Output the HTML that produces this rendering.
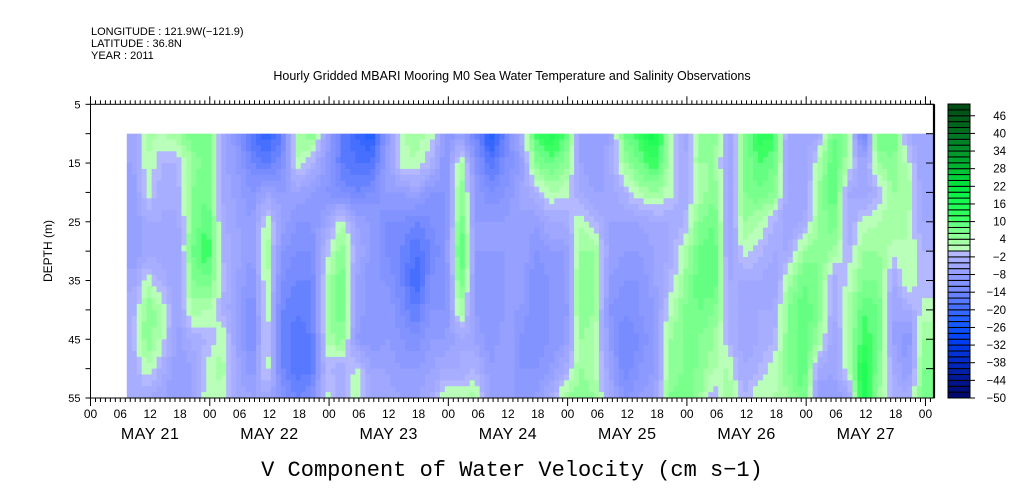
<!DOCTYPE html>
<html><head><meta charset="utf-8"><style>
body{margin:0;background:#fff;}
svg{display:block;font-family:"Liberation Sans",sans-serif;}
</style></head><body>
<svg id="chart" width="1009" height="504" viewBox="0 0 1009 504" xmlns="http://www.w3.org/2000/svg">
<rect x="0" y="0" width="1009" height="504" fill="#fff"/>
<g font-size="11" fill="#000">
<text x="91" y="35">LONGITUDE : 121.9W(−121.9)</text>
<text x="91" y="47">LATITUDE : 36.8N</text>
<text x="91" y="59">YEAR : 2011</text>
</g>
<text x="512" y="80" font-size="12.5" text-anchor="middle">Hourly Gridded MBARI Mooring M0 Sea Water Temperature and Salinity Observations</text>
<g id="cells"></g>
<g id="axes"></g>
<g id="cbar"></g>
<text x="0" y="0" transform="translate(52,251) rotate(-90)" font-size="12" text-anchor="middle">DEPTH (m)</text>
<text x="512" y="476" font-size="22" text-anchor="middle" font-family="'Liberation Mono','DejaVu Sans Mono',monospace">V Component of Water Velocity (cm s−1)</text>
</svg>
<script>
// depths (m) of the data rows
const depths = [10,15,20,25,30,35,40,45,50,55];
// column start hours (from 00 May 21), 3-hour bins
const colStartHour = 7;
const colStepHours = 3;
// velocity values (cm/s) per column, top->bottom at the depths above
const velocity = [
[-6,-6,-8,-8,-8,-5,-3,-2,-4,-4],
[3,2,1,-4,-5,1,6,6,2,-4],
[2,-2,-4,-4,-5,-3,2,1,-3,-6],
[4,-2,-3,-5,-6,-6,-6,-7,-8,-8],
[8,4,6,6,8,6,3,-3,-6,-6],
[8,8,8,10,12,8,2,-2,1,2],
[-4,-5,-4,-3,-2,-1,-2,2,3,1],
[-10,-8,-7,-6,-5,-6,-7,-6,-5,-4],
[-18,-14,-10,-8,-8,-10,-12,-12,-10,-6],
[-22,-16,-6,2,4,3,2,1,2,-4],
[-16,-12,-8,-6,-10,-12,-14,-14,-14,-10],
[3,2,-6,-10,-12,-14,-16,-18,-18,-14],
[6,-2,-8,-10,-12,-14,-14,-16,-16,-12],
[-6,-8,-10,-6,-1,2,3,2,-1,1],
[-16,-16,-12,2,6,8,8,6,-4,-4],
[-20,-18,-14,-6,-4,-6,-6,-8,1,2],
[-24,-18,-12,-8,-8,-10,-10,-10,-6,-4],
[-10,-8,-8,-12,-12,-10,-8,-8,-6,-5],
[2,1,-8,-12,-14,-14,-12,-10,-8,-6],
[3,2,-6,-14,-18,-20,-16,-12,-8,-6],
[2,-2,-10,-12,-14,-12,-10,-8,-6,-4],
[-10,-10,-10,-10,-10,-10,-10,-8,-4,2],
[-8,4,6,8,12,8,4,-4,-4,2],
[-14,-10,-8,-8,-8,-8,-8,-6,-2,3],
[-24,-18,-12,-8,-8,-10,-10,-10,-8,-6],
[-14,-12,-10,-8,-8,-8,-8,-6,-6,-6],
[-4,-8,-6,-6,-6,-6,-8,-10,-10,-10],
[10,6,-2,-8,-10,-12,-12,-12,-10,-8],
[16,8,2,-4,-8,-10,-10,-10,-8,-4],
[10,6,1,-4,-8,-8,-10,-8,-4,4],
[-6,-6,-4,2,4,6,6,4,4,6],
[-8,-8,-6,-2,4,4,4,2,2,4],
[-6,-4,-6,-6,-6,-8,-10,-8,-6,-4],
[8,4,-2,-6,-8,-10,-12,-14,-14,-10],
[12,8,2,-6,-8,-10,-10,-12,-10,-8],
[18,12,4,-4,-6,-6,-8,-8,-8,-6],
[2,2,1,-4,-4,-2,1,4,4,6],
[-6,-4,-4,-2,2,4,6,6,6,8],
[4,4,2,6,8,10,8,6,6,4],
[6,4,6,8,10,10,6,4,2,-2],
[-6,-6,-6,-6,-6,-4,-2,-2,2,4],
[6,6,6,4,1,-4,-6,-6,-4,-2],
[14,10,8,2,-1,-4,-4,-4,-2,2],
[12,8,6,-2,-4,-6,-4,-2,1,2],
[-6,-6,-6,-6,-4,3,6,6,6,4],
[-6,-6,-6,-4,4,8,10,10,10,8],
[-4,2,4,4,6,6,6,4,-4,-8],
[8,10,10,8,4,-4,-4,-6,-6,-8],
[4,2,-4,-4,-2,1,2,2,2,-6],
[-16,-6,-6,1,4,6,10,12,16,16],
[8,4,-2,2,4,6,8,8,6,4],
[8,6,4,4,1,-4,-6,-6,-4,-2],
[-4,1,4,2,2,2,-4,-10,-8,-4],
[-6,-6,-6,-4,-2,-2,1,4,6,8]
];
const colorbarLabels = [-50,-44,-38,-32,-26,-20,-14,-8,-2,4,10,16,22,28,34,40,46];
const hourTickLabels = ["00","06","12","18"];
const dayLabels = ["MAY 21","MAY 22","MAY 23","MAY 24","MAY 25","MAY 26","MAY 27"];
const depthLabels = [5,15,25,35,45,55];

const NS="http://www.w3.org/2000/svg";
const X0=90.5, PXH=4.97, Y0=104.3, PXM=5.874, XR=934, YB=398;
const xs=h=>X0+h*PXH, ys=d=>Y0+(d-5)*PXM;
function mk(tag,attrs,parent){const e=document.createElementNS(NS,tag);for(const k in attrs)e.setAttribute(k,attrs[k]);parent.appendChild(e);return e;}

const anchors=[[-50,[0,10,110]],[-44,[0,25,150]],[-38,[0,45,200]],[-32,[0,60,240]],[-26,[20,90,255]],[-20,[70,110,255]],[-14,[120,140,255]],[-8,[150,160,255]],[-4,[168,174,255]],[-2,[180,184,255]],
[0,[185,255,185]],[2,[165,255,165]],[4,[140,255,150]],[6,[120,255,140]],[8,[100,255,130]],[10,[60,255,100]],[16,[20,250,80]],[22,[0,225,60]],[28,[0,180,50]],[34,[0,140,40]],[40,[0,110,30]],[50,[0,70,20]]];
function color(v){
  const b=Math.max(-50,Math.min(48,Math.floor(v/2)*2));
  let i=0;while(i<anchors.length-2&&anchors[i+1][0]<=b)i++;
  const [a0,c0]=anchors[i],[a1,c1]=anchors[i+1];
  const t=Math.max(0,Math.min(1,(b-a0)/(a1-a0)));
  return "rgb("+c0.map((c,k)=>Math.round(c+(c1[k]-c)*t)).join(",")+")";
}
function sample(h,d){
  const nc=velocity.length;
  let cf=(h-colStartHour)/colStepHours-0.5;cf=Math.max(0,Math.min(nc-1,cf));
  const c0=Math.floor(cf),c1=Math.min(nc-1,c0+1),tc=cf-c0;
  let rf=(d-depths[0])/(depths[1]-depths[0]);rf=Math.max(0,Math.min(depths.length-1,rf));
  const r0=Math.floor(rf),r1=Math.min(depths.length-1,r0+1),tr=rf-r0;
  const a=velocity[c0][r0]*(1-tr)+velocity[c0][r1]*tr;
  const b=velocity[c1][r0]*(1-tr)+velocity[c1][r1]*tr;
  return a*(1-tc)+b*tc;
}
const cells=document.getElementById('cells');
const hStart=colStartHour+0.3, hEnd=(XR-X0)/PXH;
const dStart=depths[0], dEnd=depths[depths.length-1];
for(let h=hStart;h<hEnd;h+=1){
  const h2=Math.min(h+1,hEnd);
  for(let d=dStart;d<dEnd;d+=1){
    const r=mk('rect',{x:xs(h).toFixed(2),y:ys(d).toFixed(2),width:(xs(h2)-xs(h)+0.4).toFixed(2),height:(PXM+0.4).toFixed(2),fill:color(sample(h+0.5,d+0.5))},cells);
    
    
  }
}
const ax=document.getElementById('axes');
mk('rect',{x:X0,y:Y0,width:XR-X0,height:YB-Y0,fill:'none',stroke:'#000','stroke-width':1},ax);
mk('line',{x1:XR,y1:Y0,x2:XR,y2:YB,stroke:'#000','stroke-width':2.2},ax);
for(let h=0;h<=(XR-X0)/PXH;h++){
  const x=xs(h), big=h%24===0;
  mk('line',{x1:x,y1:Y0,x2:x,y2:Y0-(big?8:4),stroke:'#000','stroke-width':1},ax);
  mk('line',{x1:x,y1:YB,x2:x,y2:YB+(big?8:4),stroke:'#000','stroke-width':1},ax);
  if(h%6===0){
    const t=mk('text',{x:x,y:YB+20,'font-size':12,'text-anchor':'middle'},ax);
    t.textContent=hourTickLabels[(h/6)%4];
    
    
  }
}
dayLabels.forEach((lab,i)=>{
  const t=mk('text',{x:xs(i*24+12),y:YB+41,'font-size':16,'text-anchor':'middle','letter-spacing':'0.5'},ax);
  t.textContent=lab;
  
  
});
for(let d=5;d<=55;d+=5){
  mk('line',{x1:X0-5,y1:ys(d),x2:X0,y2:ys(d),stroke:'#000'},ax);
  mk('line',{x1:XR-8,y1:ys(d),x2:XR,y2:ys(d),stroke:'#000'},ax);
}
depthLabels.forEach(d=>{
  const t=mk('text',{x:X0-10,y:ys(d)+4,'font-size':11,'text-anchor':'end'},ax);
  t.textContent=d;
  
  
});
const cb=document.getElementById('cbar');
const CX=948,CW=22,CB=398,BIN=5.88;
for(let v=-50;v<50;v+=2){
  const y=CB-((v+50)/2+1)*BIN;
  const r=mk('rect',{x:CX,y:Math.max(104,y).toFixed(2),width:CW,height:(y<104?BIN-(104-y):BIN).toFixed(2),fill:color(v+1),stroke:'#000','stroke-width':1},cb);
  
  
}
colorbarLabels.forEach(v=>{
  const y=CB-((v+50)/2)*BIN;
  mk('line',{x1:CX+CW,y1:y,x2:CX+CW+5,y2:y,stroke:'#000'},cb);
  const t=mk('text',{x:1006,y:y+4,'font-size':11.5,'text-anchor':'end'},cb);
  t.textContent=String(v).replace('-','−');
  
  
});
</script>
</body></html>
